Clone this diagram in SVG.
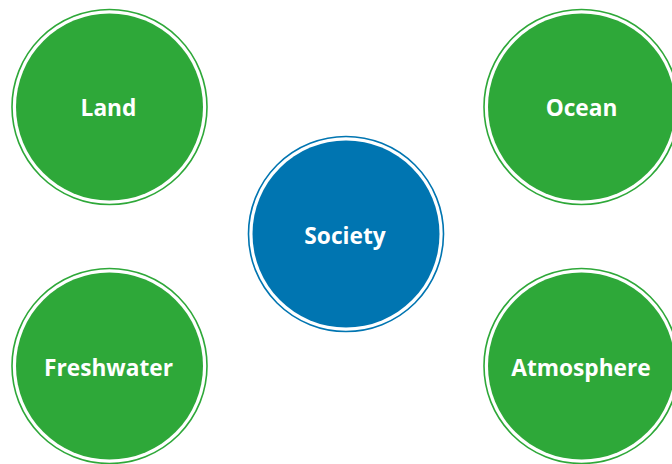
<svg xmlns="http://www.w3.org/2000/svg" width="672" height="464" viewBox="0 0 672 464">
  <style>
    .ring { fill: none; stroke-width: 1.6; }
    .green .ring { stroke: #2ea839; }
    .green .disc { fill: #2ea839; }
    .blue .ring { stroke: #0075b1; }
    .blue .disc { fill: #0075b1; }
    .label { font-family: "Open Sans", "Noto Sans", sans-serif; font-weight: 700; font-size: 22.7px; fill: #ffffff; text-anchor: middle; dominant-baseline: central; }
  </style>
  <rect width="672" height="464" fill="#ffffff"/>
  <g id="connectors"/>
  <g id="land" class="green">
    <circle class="ring" cx="109.5" cy="107" r="97.5"/>
    <circle class="disc" cx="109.5" cy="107" r="93.5"/>
    <text class="label" x="108.5" y="107">Land</text>
  </g>
  <g id="ocean" class="green">
    <circle class="ring" cx="581.5" cy="107" r="97.5"/>
    <circle class="disc" cx="581.5" cy="107" r="93.5"/>
    <text class="label" x="581.5" y="107">Ocean</text>
  </g>
  <g id="society" class="blue">
    <circle class="ring" cx="346" cy="234" r="97.5"/>
    <circle class="disc" cx="346" cy="234" r="93.5"/>
    <text class="label" x="345" y="235">Society</text>
  </g>
  <g id="freshwater" class="green">
    <circle class="ring" cx="109.5" cy="366" r="97.5"/>
    <circle class="disc" cx="109.5" cy="366" r="93.5"/>
    <text class="label" x="108.5" y="367">Freshwater</text>
  </g>
  <g id="atmosphere" class="green">
    <circle class="ring" cx="581.5" cy="366" r="97.5"/>
    <circle class="disc" cx="581.5" cy="366" r="93.5"/>
    <text class="label" x="581" y="367">Atmosphere</text>
  </g>
</svg>
